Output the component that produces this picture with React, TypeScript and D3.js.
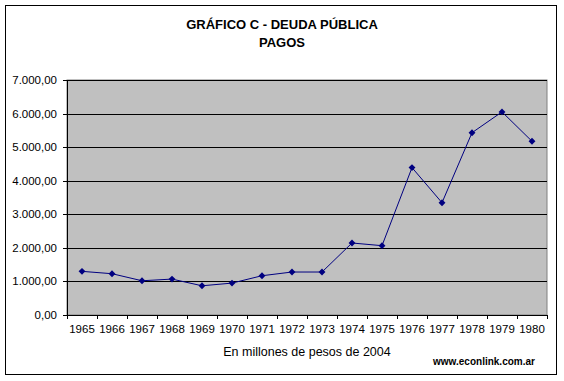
import React from "react";
import * as d3 from "d3";

const years = ["1965","1966","1967","1968","1969","1970","1971","1972","1973","1974","1975","1976","1977","1978","1979","1980"];
const pagos = [1300,1230,1020,1070,870,950,1170,1280,1280,2145,2065,4390,3345,5430,6050,5175];
const yTicks = [0,1000,2000,3000,4000,5000,6000,7000];
const titleLines = ["GRÁFICO C - DEUDA PÚBLICA", "PAGOS"];
const xAxisTitle = "En millones de pesos de 2004";
const watermark = "www.econlink.com.ar";

const W = 564, H = 381;
const plot = { left: 67, right: 547, top: 80, bottom: 315 };

const fmt = (v: number) => {
  const s = d3.format(",.2f")(v);
  return s.replace(/,/g, "#").replace(/\./g, ",").replace(/#/g, ".");
};

export default function App() {
  const x = d3.scaleBand().domain(years).range([plot.left, plot.right]);
  const y = d3.scaleLinear().domain([0, 7000]).range([plot.bottom, plot.top]);
  const line = d3.line<number>().x((_, i) => (x(years[i]) as number) + x.bandwidth() / 2).y(d => y(d));
  const font = "Liberation Sans, Arial, sans-serif";
  const diamond = d3.symbol().type(d3.symbolDiamond2).size(30)();
  return (
    <svg width={W} height={H} style={{ position: "absolute", left: 0, top: 0 }}>
      <rect x={0} y={0} width={W} height={H} fill="#fff" />
      <rect x={5.5} y={5.5} width={551} height={369} fill="#fff" stroke="#000" strokeWidth={1} />
      {titleLines.map((t, i) => (
        <text key={t} x={282} y={29 + i * 18} textAnchor="middle" fontFamily={font} fontWeight="bold" fontSize={13}>{t}</text>
      ))}
      <rect x={plot.left} y={plot.top} width={plot.right - plot.left} height={plot.bottom - plot.top} fill="#C0C0C0" stroke="#808080" strokeWidth={1} />
      {yTicks.map(t => (
        <g key={t}>
          <line x1={plot.left - 4} x2={plot.right} y1={Math.round(y(t)) + 0.5} y2={Math.round(y(t)) + 0.5} stroke="#000" strokeWidth={1} />
          <text x={plot.left - 10} y={y(t) + 4} textAnchor="end" fontFamily={font} fontSize={11.5}>{fmt(t)}</text>
        </g>
      ))}
      <line x1={plot.left + 0.5} x2={plot.left + 0.5} y1={plot.top} y2={plot.bottom + 4} stroke="#000" />
      {years.map((yr, i) => (
        <g key={yr}>
          <line x1={Math.round((x(yr) as number) + x.bandwidth()) + 0.5} x2={Math.round((x(yr) as number) + x.bandwidth()) + 0.5} y1={plot.bottom} y2={plot.bottom + 4} stroke="#000" />
          <text x={(x(yr) as number) + x.bandwidth() / 2} y={333} textAnchor="middle" fontFamily={font} fontSize={11.5}>{yr}</text>
        </g>
      ))}
      <path d={line(pagos) || ""} fill="none" stroke="#000080" strokeWidth={1} />
      {pagos.map((v, i) => (
        <path key={i} d={diamond || ""} transform={`translate(${(x(years[i]) as number) + x.bandwidth() / 2},${y(v)})`} fill="#000080" />
      ))}
      <text x={307} y={356} textAnchor="middle" fontFamily={font} fontSize={12.5}>{xAxisTitle}</text>
      <text x={484} y={365} textAnchor="middle" fontFamily={font} fontWeight="bold" fontSize={10}>{watermark}</text>
    </svg>
  );
}
